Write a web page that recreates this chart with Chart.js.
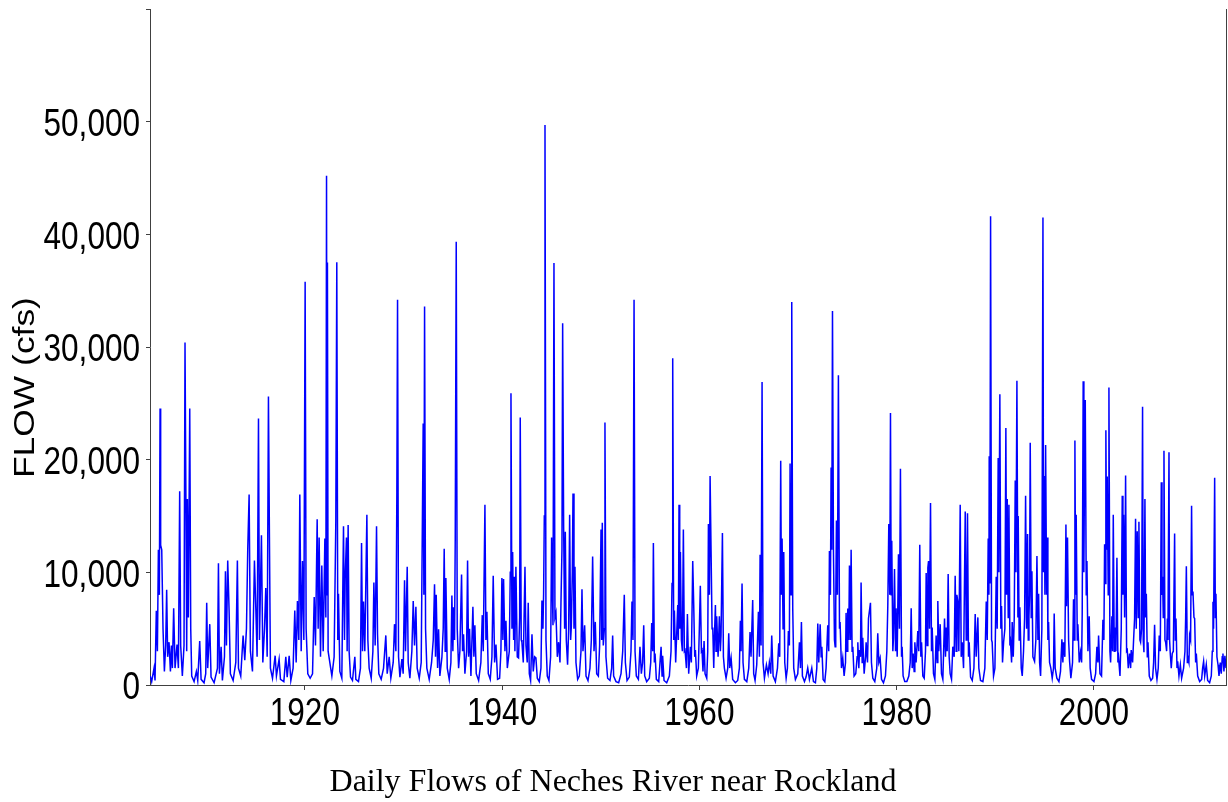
<!DOCTYPE html>
<html>
<head>
<meta charset="utf-8">
<title>Daily Flows of Neches River near Rockland</title>
<script src="https://cdn.jsdelivr.net/npm/chart.js@4.4.1/dist/chart.umd.min.js"></script>
<style>
  html, body { margin: 0; padding: 0; background: #fff; }
  #wrap { width: 1228px; height: 802px; }
</style>
</head>
<body>
<div id="wrap"><canvas id="canvasCaudal" width="1228" height="802"></canvas></div>
<script>
// [decimal year, flow in cfs]
const flow1904 = [
  [1904.32, 800], [1904.47, 300], [1904.71, 1500], [1904.81, 400], [1904.94, 6600], [1905.05, 3000],
  [1905.15, 12000], [1905.25, 8000], [1905.32, 24550], [1905.38, 12400], [1905.49, 12000], [1905.62, 5000],
  [1905.76, 1200], [1905.89, 3500], [1905.99, 8450], [1906.09, 2500], [1906.23, 3800], [1906.37, 1200],
  [1906.47, 3500], [1906.57, 1500], [1906.70, 6800], [1906.84, 1500], [1907.04, 3600], [1907.18, 1500],
  [1907.31, 17200], [1907.41, 3500], [1907.58, 800], [1907.75, 3500], [1907.85, 30400], [1907.96, 13500],
  [1908.02, 3000], [1908.09, 16500], [1908.19, 6000], [1908.33, 24550], [1908.43, 5000], [1908.53, 800],
  [1908.77, 300], [1909.00, 1200], [1909.14, 400], [1909.34, 3900], [1909.48, 500], [1909.78, 200],
  [1909.95, 1000], [1910.05, 7300], [1910.15, 1500], [1910.36, 5400], [1910.49, 700], [1910.80, 200],
  [1911.14, 1500], [1911.24, 10800], [1911.34, 1000], [1911.51, 3400], [1911.64, 400], [1911.85, 2500],
  [1911.95, 10100], [1912.05, 3500], [1912.18, 11050], [1912.32, 6600], [1912.45, 1000], [1912.73, 400],
  [1913.00, 2000], [1913.16, 11050], [1913.27, 1500], [1913.50, 800], [1913.74, 4400], [1913.91, 2200],
  [1914.08, 5000], [1914.21, 12000], [1914.35, 16900], [1914.48, 3000], [1914.69, 1200], [1914.89, 11050],
  [1915.03, 6800], [1915.16, 2500], [1915.30, 23650], [1915.40, 4000], [1915.60, 13300], [1915.74, 2000],
  [1915.91, 5000], [1916.04, 8600], [1916.18, 2500], [1916.31, 25600], [1916.41, 13100], [1916.51, 1500],
  [1916.72, 600], [1916.99, 2600], [1917.12, 800], [1917.39, 2300], [1917.53, 500], [1917.87, 300],
  [1918.07, 2500], [1918.21, 700], [1918.41, 2600], [1918.58, 400], [1918.81, 1500], [1918.98, 6600],
  [1919.12, 2000], [1919.25, 7450], [1919.39, 4000], [1919.49, 16900], [1919.63, 3000], [1919.76, 11000],
  [1919.90, 4000], [1920.03, 35800], [1920.13, 5000], [1920.30, 1000], [1920.54, 600], [1920.78, 1000],
  [1920.95, 7800], [1921.08, 3500], [1921.25, 14700], [1921.35, 5000], [1921.45, 13100], [1921.59, 2500],
  [1921.72, 10600], [1921.86, 3000], [1922.03, 13000], [1922.13, 6000], [1922.20, 45200], [1922.25, 8000],
  [1922.29, 37500], [1922.36, 3000], [1922.74, 800], [1922.97, 2500]
];

const flow1923 = [
  [1923.14, 14500], [1923.24, 37530], [1923.34, 4000], [1923.41, 8100], [1923.55, 1200], [1923.75, 600],
  [1923.92, 14100], [1924.02, 4000], [1924.09, 9500], [1924.22, 13100], [1924.29, 3000], [1924.39, 14200],
  [1924.49, 3000], [1924.63, 700], [1924.83, 400], [1925.07, 2500], [1925.17, 500], [1925.44, 300],
  [1925.64, 1500], [1925.75, 12600], [1925.85, 3000], [1925.95, 7400], [1926.08, 3000], [1926.29, 15100],
  [1926.39, 4000], [1926.52, 1500], [1926.73, 600], [1926.90, 3000], [1927.00, 9100], [1927.13, 3500],
  [1927.27, 14100], [1927.37, 4500], [1927.50, 1000], [1927.74, 500], [1927.98, 1500], [1928.21, 4400],
  [1928.35, 1000], [1928.55, 2500], [1928.72, 600], [1928.96, 2000], [1929.09, 5400], [1929.23, 3000],
  [1929.33, 17100], [1929.40, 34200], [1929.50, 2500], [1929.64, 700], [1929.84, 2300], [1929.97, 1000],
  [1930.11, 9300], [1930.21, 3000], [1930.38, 10500], [1930.48, 2000], [1930.65, 600], [1930.85, 3000],
  [1930.99, 7450], [1931.12, 3500], [1931.26, 6950], [1931.39, 1500], [1931.60, 600], [1931.80, 2000],
  [1932.00, 23200], [1932.07, 8000], [1932.14, 33600], [1932.24, 5000], [1932.37, 1500], [1932.61, 500],
  [1932.85, 2000], [1933.02, 4000], [1933.15, 8950], [1933.25, 2500], [1933.32, 8000], [1933.46, 1500],
  [1933.56, 4950], [1933.69, 800], [1933.90, 2500], [1934.03, 5000], [1934.13, 12100], [1934.23, 3000],
  [1934.30, 9500], [1934.44, 1500], [1934.64, 500], [1934.81, 2000], [1934.91, 7950], [1935.01, 3000],
  [1935.08, 6900], [1935.18, 4000], [1935.25, 13000], [1935.35, 39340], [1935.45, 5000], [1935.59, 1500],
  [1935.72, 3000], [1935.89, 9800], [1935.99, 3000], [1936.09, 4500], [1936.23, 1000], [1936.40, 3000],
  [1936.50, 11050], [1936.60, 2500], [1936.70, 5000], [1936.84, 800], [1937.04, 6950], [1937.14, 2500],
  [1937.24, 5300], [1937.38, 1000], [1937.62, 400], [1937.85, 2000], [1937.99, 6200], [1938.09, 3000],
  [1938.26, 16000], [1938.36, 4000], [1938.46, 6500], [1938.60, 1000], [1938.80, 500], [1938.97, 2500],
  [1939.10, 9700], [1939.24, 2000], [1939.38, 3600], [1939.54, 500], [1939.75, 600], [1939.88, 3000],
  [1939.98, 9500], [1940.08, 4000], [1940.15, 9400], [1940.29, 3000], [1940.39, 5700], [1940.53, 1500]
];

const flow1940 = [
  [1940.73, 3000], [1940.83, 10000], [1940.90, 25900], [1941.00, 5000], [1941.07, 11800], [1941.17, 4000],
  [1941.23, 9600], [1941.30, 3000], [1941.40, 10500], [1941.54, 2500], [1941.67, 2400], [1941.78, 6000],
  [1941.84, 23750], [1941.94, 4000], [1942.01, 3800], [1942.15, 2000], [1942.32, 10500], [1942.42, 3500],
  [1942.55, 2000], [1942.65, 7300], [1942.76, 1000], [1942.89, 400], [1943.03, 4500], [1943.16, 1200],
  [1943.30, 2500], [1943.43, 2400], [1943.57, 600], [1943.77, 300], [1943.94, 1500], [1944.04, 7500],
  [1944.14, 5000], [1944.21, 8100], [1944.28, 15000], [1944.35, 49700], [1944.45, 4000], [1944.58, 800],
  [1944.75, 400], [1944.92, 2500], [1945.02, 13100], [1945.16, 5300], [1945.26, 37460], [1945.36, 6000],
  [1945.46, 6400], [1945.60, 2500], [1945.73, 3800], [1945.87, 2000], [1945.97, 7300], [1946.07, 12000],
  [1946.14, 32100], [1946.24, 14000], [1946.34, 5000], [1946.41, 13600], [1946.51, 4000], [1946.64, 1800],
  [1946.75, 5000], [1946.85, 15100], [1946.95, 4000], [1947.02, 5200], [1947.12, 10000], [1947.19, 17000],
  [1947.29, 5000], [1947.39, 10500], [1947.49, 2000], [1947.66, 500], [1947.83, 800], [1948.00, 3000],
  [1948.10, 8500], [1948.20, 3000], [1948.37, 5300], [1948.51, 800], [1948.71, 400], [1948.91, 1500],
  [1949.05, 4000], [1949.18, 11400], [1949.32, 3000], [1949.45, 5600], [1949.59, 1000], [1949.76, 800],
  [1949.89, 3500], [1950.03, 13800], [1950.10, 4000], [1950.16, 14400], [1950.26, 3500], [1950.37, 5000],
  [1950.43, 23300], [1950.53, 2500], [1950.70, 600], [1950.94, 400], [1951.11, 1500], [1951.21, 4400],
  [1951.31, 800], [1951.55, 300], [1951.82, 200], [1952.06, 1000], [1952.23, 3000], [1952.39, 8000],
  [1952.50, 2000], [1952.67, 400], [1952.90, 700], [1953.07, 3000], [1953.17, 7400], [1953.27, 4000],
  [1953.38, 34200], [1953.48, 3000], [1953.61, 800], [1953.82, 500], [1953.98, 3400], [1954.12, 1000],
  [1954.25, 2000], [1954.36, 5300], [1954.46, 800], [1954.66, 300], [1954.93, 600], [1955.07, 2000],
  [1955.17, 5500], [1955.27, 3000], [1955.34, 12600], [1955.44, 2000], [1955.51, 2800], [1955.64, 500],
  [1955.88, 300], [1956.12, 3400], [1956.22, 800], [1956.28, 2600], [1956.42, 400], [1956.69, 200],
  [1956.96, 800], [1957.13, 3000], [1957.23, 9000], [1957.30, 29000], [1957.40, 4000], [1957.47, 6600],
  [1957.60, 2000], [1957.81, 7100], [1957.87, 4000], [1957.94, 16000], [1958.01, 5000], [1958.08, 11800],
  [1958.18, 4000], [1958.28, 3000], [1958.38, 13800], [1958.48, 3000], [1958.55, 3100], [1958.69, 1500],
  [1958.79, 6300], [1958.92, 1000]
];

const flow1959 = [
  [1959.09, 3400], [1959.19, 2000], [1959.33, 11000], [1959.43, 7100], [1959.53, 2500], [1959.60, 3100],
  [1959.73, 800], [1959.90, 1500], [1960.00, 5000], [1960.10, 8800], [1960.21, 3000], [1960.27, 3100],
  [1960.37, 1200], [1960.48, 3900], [1960.58, 1000], [1960.75, 600], [1960.85, 3000], [1960.92, 14300],
  [1961.02, 8000], [1961.09, 18550], [1961.19, 11800], [1961.29, 5000], [1961.36, 5100], [1961.46, 1500],
  [1961.52, 4000], [1961.63, 7100], [1961.69, 3000], [1961.76, 6100], [1961.90, 2500], [1962.03, 6100],
  [1962.13, 3000], [1962.20, 4400], [1962.34, 13500], [1962.44, 2500], [1962.54, 1500], [1962.71, 600],
  [1962.88, 1500], [1962.98, 4600], [1963.08, 1500], [1963.22, 2400], [1963.38, 500], [1963.66, 200],
  [1963.89, 400], [1964.06, 1500], [1964.16, 5700], [1964.23, 3000], [1964.33, 9000], [1964.43, 2000],
  [1964.57, 500], [1964.81, 300], [1965.01, 1500], [1965.14, 4700], [1965.24, 2500], [1965.41, 7550],
  [1965.51, 1000], [1965.65, 400], [1965.82, 1800], [1965.99, 6500], [1966.09, 2500], [1966.16, 11550],
  [1966.26, 3500], [1966.36, 26900], [1966.46, 2000], [1966.60, 600], [1966.80, 1800], [1966.97, 1000],
  [1967.10, 2000], [1967.24, 1000], [1967.34, 4400], [1967.48, 800], [1967.71, 300], [1967.92, 1500],
  [1968.05, 3700], [1968.15, 2500], [1968.25, 19900], [1968.32, 8000], [1968.39, 13000], [1968.49, 5000],
  [1968.56, 11800], [1968.66, 2000], [1968.80, 600], [1968.93, 1500], [1969.03, 4800], [1969.13, 3500],
  [1969.20, 19650], [1969.30, 8000], [1969.37, 34000], [1969.47, 6800], [1969.57, 1500], [1969.74, 500],
  [1969.98, 1000], [1970.15, 3800], [1970.25, 1500], [1970.35, 5600], [1970.45, 800], [1970.66, 300],
  [1970.82, 700], [1970.99, 1500], [1971.16, 500], [1971.40, 1500], [1971.57, 300], [1971.77, 200],
  [1971.91, 1500], [1972.01, 5450], [1972.11, 2000], [1972.25, 5400], [1972.35, 2500], [1972.42, 3400],
  [1972.55, 500], [1972.72, 300], [1972.85, 1500], [1973.02, 5300], [1973.12, 3000], [1973.19, 11900],
  [1973.29, 8000], [1973.36, 19300], [1973.43, 12000], [1973.50, 33200], [1973.60, 11800], [1973.70, 4000],
  [1973.77, 3400], [1973.83, 7000], [1973.90, 14600], [1974.00, 8000], [1974.10, 27500], [1974.21, 5000],
  [1974.27, 5600], [1974.41, 1500], [1974.54, 2400], [1974.68, 800], [1974.82, 2000], [1974.88, 6400],
  [1974.98, 3000], [1975.05, 6800], [1975.15, 4000], [1975.22, 10600], [1975.32, 4000], [1975.39, 12000],
  [1975.49, 3000], [1975.56, 3400], [1975.69, 800], [1975.86, 1000], [1976.00, 2500], [1976.07, 3800],
  [1976.17, 1500], [1976.24, 3100], [1976.34, 2500], [1976.40, 9100], [1976.51, 2000], [1976.57, 4200],
  [1976.71, 1000], [1976.85, 2500], [1976.91, 3800], [1977.05, 2000], [1977.15, 5900]
];

const flow1977 = [
  [1977.35, 7300], [1977.45, 2000], [1977.59, 600], [1977.79, 300], [1977.99, 1500], [1978.09, 4600],
  [1978.20, 2000], [1978.33, 2400], [1978.47, 500], [1978.67, 200], [1978.87, 800], [1979.01, 3000],
  [1979.11, 7100], [1979.21, 14300], [1979.31, 8000], [1979.38, 24150], [1979.45, 8000], [1979.51, 12800],
  [1979.62, 3000], [1979.68, 4100], [1979.79, 10300], [1979.89, 3000], [1979.95, 6800], [1980.06, 2500],
  [1980.19, 11600], [1980.29, 5000], [1980.39, 19200], [1980.50, 2500], [1980.56, 3400], [1980.66, 800],
  [1980.83, 300], [1981.04, 300], [1981.24, 800], [1981.38, 2000], [1981.48, 6800], [1981.58, 1500],
  [1981.68, 2800], [1981.78, 1200], [1981.85, 3800], [1981.98, 2000], [1982.15, 4800], [1982.25, 3000],
  [1982.35, 12450], [1982.46, 2500], [1982.53, 3800], [1982.66, 800], [1982.80, 600], [1982.93, 3000],
  [1983.00, 9950], [1983.10, 3500], [1983.17, 10400], [1983.24, 11000], [1983.34, 5000], [1983.44, 16150],
  [1983.54, 3000], [1983.61, 5100], [1983.74, 1000], [1983.88, 500], [1984.01, 4400], [1984.11, 2000],
  [1984.18, 7450], [1984.28, 3000], [1984.42, 5400], [1984.55, 1000], [1984.69, 500], [1984.86, 5900],
  [1984.96, 2500], [1985.03, 5100], [1985.13, 3000], [1985.23, 9850], [1985.33, 2500], [1985.43, 1000],
  [1985.57, 500], [1985.70, 3400], [1985.84, 2500], [1985.94, 9700], [1986.04, 3000], [1986.11, 8000],
  [1986.21, 7400], [1986.31, 3000], [1986.45, 16000], [1986.55, 2500], [1986.65, 3800], [1986.79, 1500],
  [1986.96, 15400], [1987.06, 4000], [1987.12, 6000], [1987.19, 15250], [1987.29, 2500], [1987.36, 3800],
  [1987.50, 700], [1987.67, 400], [1987.84, 1500], [1987.97, 6300], [1988.07, 2500], [1988.24, 6000],
  [1988.34, 1500], [1988.51, 400], [1988.75, 300], [1988.95, 1500], [1989.09, 7400], [1989.19, 4000],
  [1989.29, 13000], [1989.36, 8000], [1989.39, 20300], [1989.46, 9000], [1989.53, 41600], [1989.63, 4000],
  [1989.69, 3800], [1989.83, 800], [1989.97, 1500], [1990.10, 9600], [1990.20, 5000], [1990.30, 20150],
  [1990.37, 10000], [1990.47, 25800], [1990.57, 5000], [1990.64, 7000], [1990.74, 2000], [1990.85, 3800],
  [1990.98, 5000], [1991.08, 22800], [1991.15, 8000], [1991.22, 16500], [1991.32, 6000], [1991.39, 16000],
  [1991.49, 3500], [1991.55, 3800], [1991.66, 2000], [1991.72, 5600], [1991.83, 2500], [1991.93, 6000],
  [1992.03, 18150], [1992.10, 10000], [1992.20, 27000], [1992.30, 6000], [1992.33, 15000], [1992.43, 4000],
  [1992.50, 6900], [1992.64, 1500], [1992.74, 800], [1992.87, 3000], [1992.98, 6000], [1993.08, 16800],
  [1993.18, 5000], [1993.28, 13400], [1993.35, 4000], [1993.42, 6100], [1993.48, 8000], [1993.55, 21500],
  [1993.65, 6000], [1993.72, 10100], [1993.82, 2500], [1993.99, 2100], [1994.12, 4000], [1994.23, 11450],
  [1994.33, 4000], [1994.40, 8100], [1994.50, 2000], [1994.60, 800], [1994.73, 5000], [1994.84, 41500],
  [1994.90, 10000], [1994.97, 18550], [1995.04, 8000], [1995.11, 21300], [1995.21, 8000], [1995.28, 13100],
  [1995.34, 4000], [1995.41, 5600]
];

const flow1995 = [
  [1995.51, 2000], [1995.64, 1500], [1995.78, 600], [1995.91, 1500], [1995.98, 6350], [1996.08, 1500],
  [1996.25, 600], [1996.46, 300], [1996.62, 1200], [1996.76, 4050], [1996.86, 2000], [1996.93, 3800],
  [1997.06, 2500], [1997.17, 14250], [1997.23, 7000], [1997.33, 13100], [1997.44, 4000], [1997.54, 2100],
  [1997.67, 600], [1997.84, 2000], [1997.94, 7600], [1998.01, 4000], [1998.08, 21700], [1998.15, 8000],
  [1998.21, 15100], [1998.32, 4000], [1998.38, 5400], [1998.52, 2000], [1998.65, 2900], [1998.76, 2000],
  [1998.82, 6300], [1998.92, 26950], [1998.99, 10000], [1999.06, 20000], [1999.13, 25300], [1999.23, 8000],
  [1999.30, 11000], [1999.40, 3000], [1999.53, 6100], [1999.63, 1500], [1999.77, 500], [2000.01, 300],
  [2000.18, 1000], [2000.31, 3400], [2000.41, 2000], [2000.48, 4400], [2000.62, 1000], [2000.78, 800],
  [2000.92, 5800], [2001.02, 4000], [2001.09, 12500], [2001.16, 9000], [2001.22, 22600], [2001.29, 12000],
  [2001.36, 18500], [2001.46, 8000], [2001.53, 26400], [2001.63, 3000], [2001.70, 2000], [2001.83, 6100],
  [2001.90, 3000], [2001.97, 15100], [2002.07, 3000], [2002.14, 5100], [2002.24, 3000], [2002.34, 11300],
  [2002.44, 2000], [2002.51, 2400], [2002.65, 800], [2002.78, 5000], [2002.88, 16800], [2002.95, 8000],
  [2003.02, 15100], [2003.12, 6000], [2003.22, 18600], [2003.32, 3000], [2003.39, 3100], [2003.49, 1500],
  [2003.62, 2800], [2003.73, 1500], [2003.79, 3100], [2003.93, 2000], [2004.03, 4000], [2004.13, 5900],
  [2004.23, 14750], [2004.30, 5000], [2004.40, 13650], [2004.50, 6000], [2004.57, 14500], [2004.67, 4000],
  [2004.74, 3800], [2004.84, 5000], [2004.94, 24700], [2005.01, 4000], [2005.08, 2900], [2005.18, 16500],
  [2005.25, 6000], [2005.32, 8100], [2005.42, 2500], [2005.49, 3800], [2005.62, 800], [2005.79, 400],
  [2005.96, 600], [2006.06, 2000], [2006.16, 5350], [2006.26, 1500], [2006.40, 500], [2006.53, 1500],
  [2006.63, 4400], [2006.74, 3000], [2006.84, 18000], [2006.91, 8000], [2006.97, 9600], [2007.04, 6000],
  [2007.11, 20800], [2007.21, 4000], [2007.28, 3800], [2007.38, 3000], [2007.45, 5900], [2007.51, 4000],
  [2007.62, 20650], [2007.68, 4000], [2007.75, 2800], [2007.85, 1500], [2007.95, 2800], [2008.06, 3000],
  [2008.19, 13450], [2008.26, 4000], [2008.33, 5900], [2008.43, 1500], [2008.50, 2100], [2008.63, 800],
  [2008.77, 1800], [2008.90, 600], [2009.10, 1500], [2009.24, 3000], [2009.31, 6000], [2009.38, 10550],
  [2009.48, 2000], [2009.54, 2400], [2009.64, 2000], [2009.71, 4400], [2009.81, 4000], [2009.91, 15900],
  [2009.98, 8000], [2010.05, 8300], [2010.15, 6000], [2010.22, 5900], [2010.32, 2000], [2010.39, 2800],
  [2010.53, 800], [2010.73, 300], [2010.93, 500], [2011.03, 1500], [2011.13, 2100], [2011.24, 800],
  [2011.40, 1800], [2011.54, 400], [2011.74, 200], [2011.91, 800], [2012.01, 3000], [2012.08, 7400],
  [2012.14, 5000], [2012.25, 18400], [2012.32, 6000], [2012.38, 8100], [2012.48, 2500], [2012.59, 1800],
  [2012.69, 800], [2012.82, 2000], [2012.92, 1000], [2013.02, 2500], [2013.09, 2800], [2013.19, 1200],
  [2013.29, 2600], [2013.40, 1500]
];

const yearTicks = [1920, 1940, 1960, 1980, 2000];
const flowTicks = [0, 10000, 20000, 30000, 40000, 50000, 60000];
const flowLabels = ['0', '10,000', '20,000', '30,000', '40,000', '50,000', ''];

const chartTitle = 'Daily Flows of Neches River near Rockland';
const axisTitle = 'FLOW (cfs)';

const serieCompleta = [].concat(flow1904, flow1923, flow1940, flow1959, flow1977, flow1995)
  .map(p => ({ x: p[0], y: p[1] }));

// el original usa una fuente estrecha: se dibuja Liberation Sans comprimida en horizontal
const fuenteTicks = '38px "Liberation Sans", Arial, sans-serif';
const escalaTicks = 0.83;

function textoComprimido(ctx, texto, x, y, escala) {
  ctx.save();
  ctx.translate(x, y);
  ctx.scale(escala, 1);
  ctx.fillText(texto, 0, 0);
  ctx.restore();
}

// etiquetas de los ejes, marco derecho y titulo del eje Y
const marcoPlugin = {
  id: 'marco',
  afterDraw(chart) {
    const { ctx, chartArea, scales } = chart;
    ctx.save();
    ctx.strokeStyle = '#404040';
    ctx.lineWidth = 1;
    ctx.beginPath();
    ctx.moveTo(chartArea.right + 0.5, chartArea.top);
    ctx.lineTo(chartArea.right + 0.5, chartArea.bottom);
    ctx.stroke();

    ctx.fillStyle = '#000';
    ctx.font = fuenteTicks;
    ctx.textBaseline = 'middle';

    ctx.textAlign = 'right';
    flowTicks.forEach((v, i) => {
      if (!flowLabels[i]) return;
      textoComprimido(ctx, flowLabels[i], 140, scales.y.getPixelForValue(v) + 4, escalaTicks);
    });

    ctx.textAlign = 'center';
    yearTicks.forEach(v => {
      textoComprimido(ctx, String(v), scales.x.getPixelForValue(v), 715, escalaTicks);
    });

    ctx.translate(33.5, 478);
    ctx.rotate(-Math.PI / 2);
    ctx.scale(1.18, 1);
    ctx.font = '30px "Liberation Sans", Arial, sans-serif';
    ctx.textAlign = 'left';
    ctx.textBaseline = 'alphabetic';
    ctx.fillText(axisTitle, 0, 0);
    ctx.restore();
  }
};

const ctx = document.getElementById('canvasCaudal').getContext('2d');
new Chart(ctx, {
  type: 'line',
  data: {
    datasets: [{
      label: axisTitle,
      data: serieCompleta,
      borderColor: '#0000ff',
      borderWidth: 1.5,
      pointRadius: 0,
      fill: false,
      tension: 0
    }]
  },
  options: {
    responsive: false,
    animation: false,
    parsing: false,
    layout: { padding: { left: 0, right: 2, top: 9, bottom: 0 } },
    scales: {
      x: {
        type: 'linear',
        min: 1904.3,
        max: 2013.4,
        afterBuildTicks: s => { s.ticks = yearTicks.map(v => ({ value: v })); },
        afterFit: s => { s.height = 78.6; },
        grid: { drawOnChartArea: false, drawTicks: true, tickLength: 5, color: '#404040' },
        border: { display: true, color: '#404040', width: 1 },
        ticks: { display: false }
      },
      y: {
        min: 0,
        max: 60000,
        afterBuildTicks: s => { s.ticks = flowTicks.map(v => ({ value: v })); },
        afterFit: s => { s.width = 150; },
        grid: { drawOnChartArea: false, drawTicks: true, tickLength: 4, color: '#404040' },
        border: { display: true, color: '#404040', width: 1 },
        ticks: { display: false }
      }
    },
    plugins: {
      legend: { display: false },
      tooltip: { enabled: false },
      title: {
        display: true,
        position: 'bottom',
        text: chartTitle,
        color: '#000',
        font: { family: '"Liberation Serif", "Times New Roman", serif', size: 32, weight: 'normal' },
        padding: { top: 0, bottom: 0 }
      }
    }
  },
  plugins: [marcoPlugin]
});
</script>
</body>
</html>
